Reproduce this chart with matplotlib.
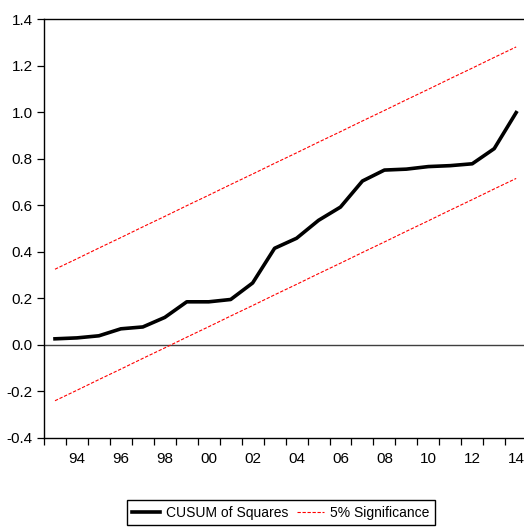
import matplotlib
matplotlib.use('Agg')
import matplotlib.pyplot as plt
from matplotlib.ticker import FixedLocator, NullFormatter

plt.rcParams['font.family'] = ['Liberation Sans Narrow', 'Liberation Sans', 'DejaVu Sans']

# Роки та значення CUSUM of Squares
years = list(range(1993, 2015))
cusum_sq = [0.026, 0.030, 0.039, 0.069, 0.077, 0.118, 0.185, 0.185, 0.195, 0.266,
            0.415, 0.458, 0.535, 0.592, 0.704, 0.751, 0.755, 0.766, 0.770, 0.778,
            0.843, 0.998]
# Межі 5% значущості
upper = [0.325, 0.370, 0.416, 0.461, 0.507, 0.552, 0.598, 0.643, 0.689, 0.734, 0.780,
         0.825, 0.871, 0.916, 0.962, 1.007, 1.053, 1.098, 1.144, 1.189, 1.235, 1.280]
lower = [-0.240, -0.195, -0.149, -0.104, -0.058, -0.013, 0.033, 0.078, 0.124, 0.169, 0.215,
         0.260, 0.306, 0.351, 0.397, 0.442, 0.488, 0.533, 0.579, 0.624, 0.670, 0.715]
label_years = list(range(1994, 2015, 2))
label_text = ['94', '96', '98', '00', '02', '04', '06', '08', '10', '12', '14']

fig = plt.figure(figsize=(5.24, 5.28), dpi=100)
ax = fig.add_axes([0.084, 0.1705, 0.922, 0.7935])

ax.axhline(0, color='#404040', linewidth=1.0, zorder=1)
ax.plot(years, cusum_sq, color='black', linewidth=2.6, label='CUSUM of Squares',
        solid_joinstyle='round', zorder=3)
ax.plot(years, upper, color='red', linewidth=0.8, linestyle=(0, (3, 1.5)),
        label='5% Significance', zorder=2)
ax.plot(years, lower, color='red', linewidth=0.8, linestyle=(0, (3, 1.5)), zorder=2)

ax.set_xlim(1992.5, 2014.5)
ax.set_ylim(-0.4, 1.4)
ax.set_yticks([-0.4, -0.2, 0.0, 0.2, 0.4, 0.6, 0.8, 1.0, 1.2, 1.4])
ax.set_yticklabels(['-0.4', '-0.2', '0.0', '0.2', '0.4', '0.6', '0.8', '1.0', '1.2', '1.4'])

# Підписи років по центру інтервалів, риски на межах років
ax.set_xticks(label_years)
ax.set_xticklabels(label_text)
ax.xaxis.set_minor_locator(FixedLocator([y + 0.5 for y in range(1992, 2015)]))
ax.xaxis.set_minor_formatter(NullFormatter())
ax.tick_params(axis='x', which='major', length=0, labelsize=11, pad=10)
ax.tick_params(axis='x', which='minor', length=5, width=0.9, direction='out')
ax.tick_params(axis='y', length=5, width=0.9, direction='out', labelsize=11, pad=3)

for s in ax.spines.values():
    s.set_linewidth(1.0)

fig.legend(loc='center', bbox_to_anchor=(0.536, 0.029), ncol=2, fontsize=10,
           frameon=True, fancybox=False, edgecolor='black', framealpha=1,
           handlelength=2.0, columnspacing=0.6, handletextpad=0.4, borderpad=0.4)

fig.savefig('out.png', dpi=100)
